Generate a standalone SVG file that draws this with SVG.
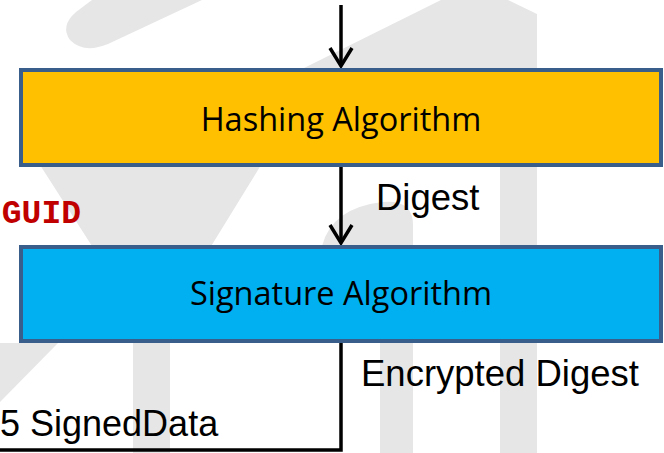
<svg xmlns="http://www.w3.org/2000/svg" width="664" height="453" viewBox="0 0 664 453">
  <defs>
    <style>
      .wm { fill: #e6e6e6; stroke: none; }
      .box { stroke: #3A5E8C; stroke-width: 4; }
      .boxlabel { font-family: "Open Sans", "Noto Sans", sans-serif; font-size: 32.5px; fill: #000000; text-anchor: middle; }
      .label { font-family: "Liberation Sans", Arial, sans-serif; font-size: 36.5px; fill: #000000; }
      .code { font-family: "Liberation Mono", "Courier New", monospace; font-weight: bold; font-size: 33px; fill: #C00000; }
      .conn { fill: none; stroke: #000000; stroke-width: 3.5; }
    </style>
    <marker id="chev" markerUnits="userSpaceOnUse" markerWidth="40" markerHeight="40" refX="0" refY="0" orient="auto" overflow="visible">
      <path d="M-18,-11 L0,0 L-18,11" fill="none" stroke="#000000" stroke-width="3.5" stroke-linejoin="miter"/>
    </marker>
  </defs>
  <rect x="0" y="0" width="664" height="453" fill="#ffffff"/>

  <g id="watermark">
    <path class="wm" d="M92,0 L202,0 L108,44 Q84,54 70,40 Q60,26 76,12 Z"/>
    <path class="wm" d="M300,70 L441,0 L508,0 L537,14 L537,453 L500,453 L500,70 Z"/>
    <path class="wm" d="M40,165 L261,165 L170,313 L170,453 L133,453 L133,310 Z"/>
    <path class="wm" d="M322,246 Q332,208 382,202 Q413,199 413,225 L413,453 L380,453 L380,343 L330,343 Z"/>
    <path class="wm" d="M0,343 L58,343 L0,402 Z"/>
  </g>

  <g id="connectors">
    <path class="conn" d="M341,5 V66" marker-end="url(#chev)"/>
    <path class="conn" d="M341,166 V243" marker-end="url(#chev)"/>
    <path class="conn" d="M341,342 V450 H0"/>
  </g>

  <g id="node-hashing">
    <rect class="box" x="21" y="70" width="640" height="95" fill="#FFC000"/>
    <text class="boxlabel" x="341" y="131">Hashing Algorithm</text>
  </g>

  <g id="node-signature">
    <rect class="box" x="21" y="247" width="640" height="94" fill="#00B0F0"/>
    <text class="boxlabel" x="341" y="305">Signature Algorithm</text>
  </g>

  <g id="labels">
    <text class="label" x="376" y="210">Digest</text>
    <text class="label" x="361" y="386">Encrypted Digest</text>
    <text class="label" x="0" y="436" style="font-size:36px">5 SignedData</text>
    <text class="code" x="81" y="223" text-anchor="end">GUID</text>
  </g>
</svg>
